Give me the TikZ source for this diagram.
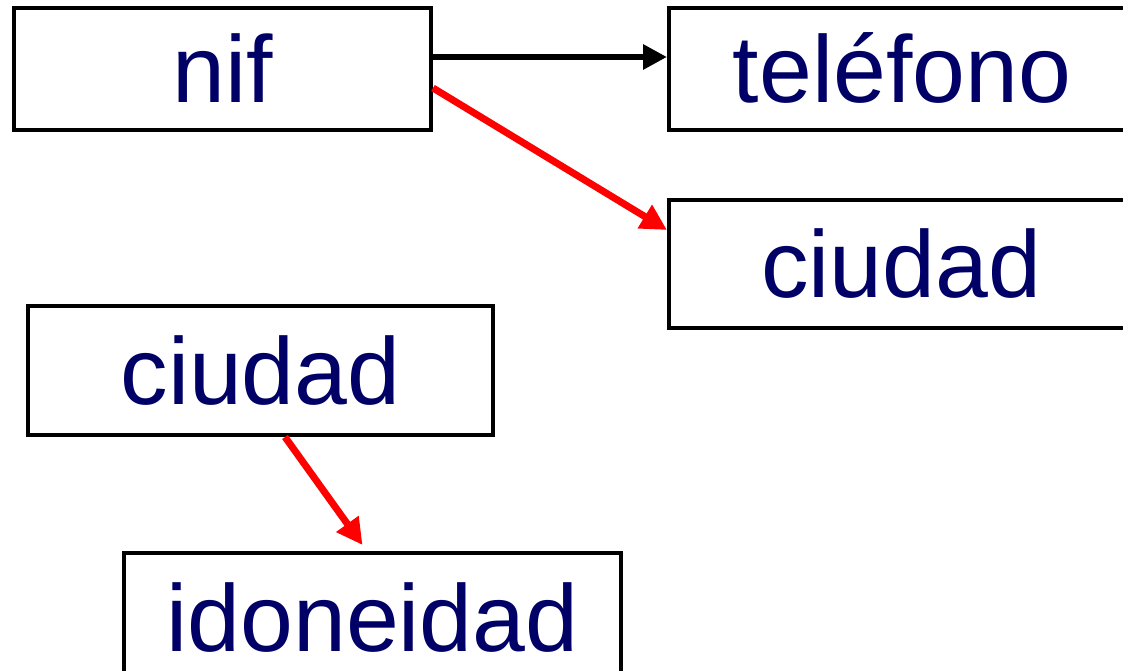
\documentclass[tikz,border=0pt]{standalone}
\usepackage{fontspec}
\setmainfont{Liberation Sans}
\usetikzlibrary{arrows.meta}
\definecolor{azul}{RGB}{0,0,102}
\begin{document}
\begin{tikzpicture}[x=1pt,y=-1pt]
		% Estilos para los nodos
		\tikzstyle{atributo} = [rectangle, draw=black, line width=4pt, text=azul, font=\fontsize{95}{100}\selectfont, text height=67pt, text depth=0pt, inner sep=0pt, text centered]
		\tikzstyle{flecha} = [line width=6pt, -{Triangle[length=24pt,width=24pt]}]
		\tikzstyle{flechaRoja} = [red, line width=7pt, -{Triangle[length=26pt,width=26pt]}]
		\useasboundingbox (0,0) rectangle (1123,671);
		\clip (0,0) rectangle (1123,671);
		% Nodos
		\node (nif) [atributo, minimum width=417pt, minimum height=122pt] at (222.5,69) {nif};
		\node (tel) [atributo, minimum width=466pt, minimum height=122pt] at (902,69) {teléfono};
		\node (ciu1) [atributo, minimum width=464pt, minimum height=128pt] at (901,264) {ciudad};
		\node (ciu2) [atributo, minimum width=465pt, minimum height=129pt] at (260.5,370.5) {ciudad};
		\node (idon) [atributo, minimum width=497pt, minimum height=130pt] at (372.5,618) {idoneidad};
		% Flechas
		\draw [flecha] ([yshift=12pt]nif.east) -- ([yshift=12pt]tel.west);
		\draw [flechaRoja] ([yshift=-19pt]nif.east) -- ([yshift=34pt]ciu1.west);
		\draw [flechaRoja] ([xshift=24.5pt]ciu2.south) -- ([xshift=-10pt,yshift=6pt]idon.north);
	\end{tikzpicture}
\end{document}
